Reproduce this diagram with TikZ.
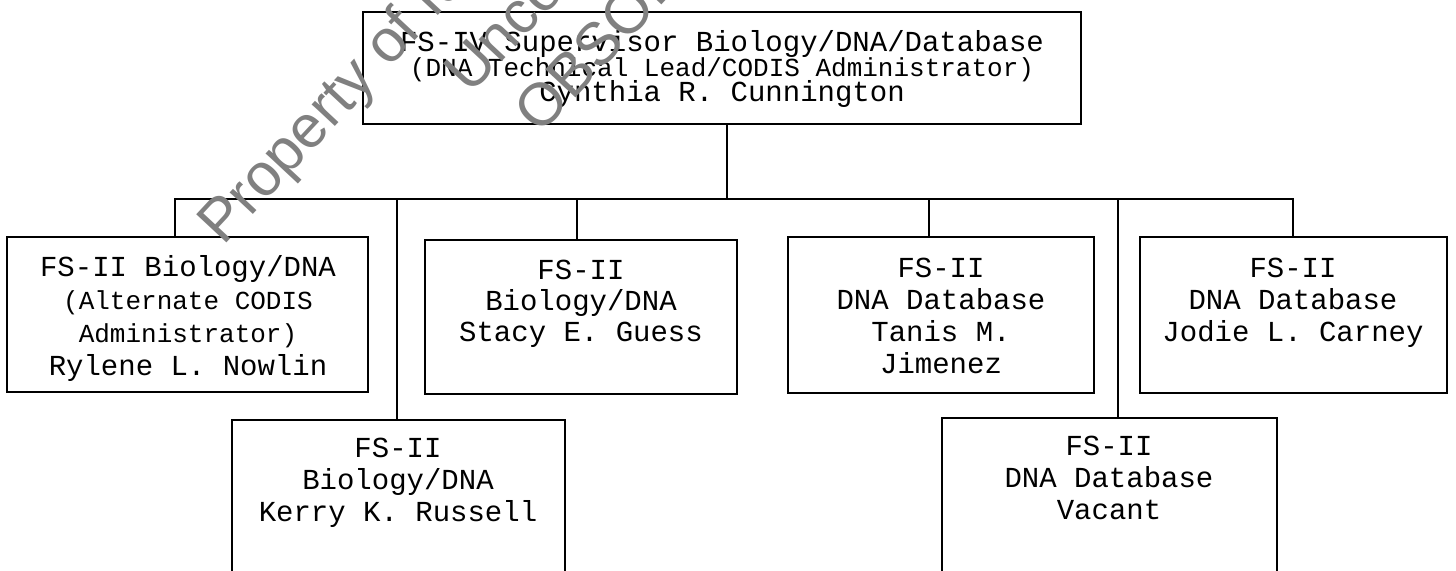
\documentclass[tikz,border=0pt]{standalone}
\usepackage{fontspec}
\usetikzlibrary{fit}
\newfontfamily\cour{Liberation Mono}
\newfontfamily\wmfont{Liberation Sans}
\newcommand{\smtxt}[1]{{\fontsize{13}{16}\selectfont #1}}
\lineskiplimit=-20pt
\begin{document}
\begin{tikzpicture}[x=0.5pt,y=-0.5pt,
  box/.style={draw, line width=1pt, inner sep=0pt, rectangle},
  txt/.style={font=\cour\fontsize{14.5}{16}\selectfont, align=center, inner sep=0pt, anchor=north},
  toptxt/.style={txt, font=\cour\fontsize{14.5}{12.5}\selectfont},
  rytxt/.style={txt, font=\cour\fontsize{14.5}{16.5}\selectfont},
  sttxt/.style={txt, font=\cour\fontsize{14.5}{15.5}\selectfont},
  conn/.style={line width=1.1pt},
  wm/.style={text=black!50, font=\wmfont\fontsize{30}{30}\selectfont, rotate=47, anchor=base west, inner sep=0pt}]
\useasboundingbox (0,0) rectangle (1456,570);
\clip (0,0) rectangle (1456,570);
\fill[white] (0,0) rectangle (1456,570);

% boxes
\node[box, fit={(363,12) (1081,124)}] (top) {};
\node[box, fit={(7,237) (368,392)}] (ry) {};
\node[box, fit={(425,240) (737,394)}] (st) {};
\node[box, fit={(788,237) (1094,393)}] (ta) {};
\node[box, fit={(1140,237) (1447,393)}] (jo) {};
\node[box, fit={(232,420) (565,620)}] (ke) {};
\node[box, fit={(942,418) (1277,620)}] (va) {};

% texts
\node[toptxt] (toptext) at (722,30) {FS-IV Supervisor Biology/DNA/Database\\ \smtxt{(DNA Technical Lead/CODIS Administrator)}\\ Cynthia R. Cunnington};
\node[rytxt] (rytext) at (188,255) {FS-II Biology/DNA\\ \smtxt{(Alternate CODIS}\\ \smtxt{Administrator)}\\ Rylene L. Nowlin};
\node[sttxt] (sttext) at (581,260) {FS-II\\ Biology/DNA\\ Stacy E. Guess};
\node[txt] (tatext) at (941,258) {FS-II\\ DNA Database\\ Tanis M.\\ Jimenez};
\node[txt] (jotext) at (1293,258) {FS-II\\ DNA Database\\ Jodie L. Carney};
\node[txt] (ketext) at (398,438) {FS-II\\ Biology/DNA\\ Kerry K. Russell};
\node[txt] (vatext) at (1109,436) {FS-II\\ DNA Database\\ Vacant};

% connectors
\coordinate (j) at (727,199);
\coordinate (b1) at (175,199);
\coordinate (b2) at (397,199);
\coordinate (b3) at (577,199);
\coordinate (b4) at (929,199);
\coordinate (b5) at (1118,199);
\coordinate (b6) at (1293,199);
\draw[conn] (top.south -| j) -- (j);
\draw[conn] (b1 |- ry.north) -- (b1) -- (b6) -- (b6 |- jo.north);
\draw[conn] (b2) -- (b2 |- ke.north);
\draw[conn] (b3) -- (b3 |- st.north);
\draw[conn] (b4) -- (b4 |- ta.north);
\draw[conn] (b5) -- (b5 |- va.north);

% watermark
\node[wm] (wm1) at (223,247) {Property of Id};
\node[wm] (wm2) at (470,96) {Unco};
\node[wm] (wm3) at (540,136) {OBSOL};
\end{tikzpicture}
\end{document}
